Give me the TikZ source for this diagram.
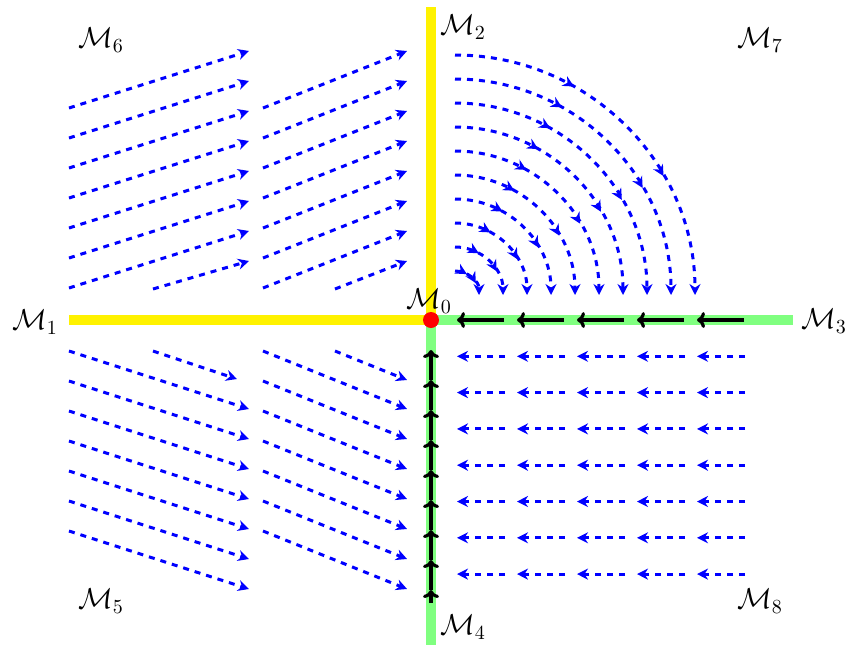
\documentclass[tikz,border=0pt]{standalone}
\usetikzlibrary{arrows.meta,decorations.markings}
\begin{document}
\begin{tikzpicture}[x=0.5pt,y=0.5pt,
  axisY/.style={yellow, line width=5pt},
  axisG/.style={green!50, line width=5pt},
  flow/.style={blue, dashed, line width=1.5pt, -{Stealth[length=5.5pt,width=5.5pt]}},
  bigarrow/.style={black, line width=1.6pt, -{Computer Modern Rightarrow[length=4pt,width=8pt]}},
  lab/.style={font=\Large, inner sep=0pt},
  arcflow/.style={flow, postaction={decorate}, decoration={markings,
     mark=at position 0.33 with {\arrow{Stealth[length=5.5pt,width=5.5pt]}},
     mark=at position 0.67 with {\arrow{Stealth[length=5.5pt,width=5.5pt]}}}}
]
\useasboundingbox (-431,-325) rectangle (419,320);
% axes
\coordinate (O) at (0,0);
\coordinate (L) at (-362,0);
\coordinate (T) at (0,313);
\coordinate (R) at (362,0);
\coordinate (B) at (0,-325);
\draw[axisG] (O) -- (R);
\draw[axisG] (O) -- (B);
\draw[axisY] (L) -- (O);
\draw[axisY] (O) -- (T);
% upper-left and lower-left flows
\foreach \k in {0,...,6} {
  \draw[flow] (-362,{212-30*\k}) -- (-182,{269-30*\k});
  \draw[flow] (-168,{212-30*\k}) -- (-24,{269-30*\k});
  \draw[flow] (-362,{-31-30*\k}) -- (-182,{-89-30*\k});
  \draw[flow] (-168,{-31-30*\k}) -- (-24,{-89-30*\k});
}
\draw[flow] (-278,31) -- (-182,59);
\draw[flow] (-96,31) -- (-24,59);
\draw[flow] (-278,-31) -- (-194,-59);
\draw[flow] (-96,-31) -- (-24,-60);
% upper-right arcs
\foreach \k in {1,...,10} {
  \draw[arcflow] (24,{25+24*\k}) arc[start angle=90, end angle=0, radius={\k*12pt}];
}
% lower-right flows
\foreach \j in {1,...,7} {
  \foreach \c in {0,...,4} {
    \draw[flow] ({74+60*\c},{-36.3*\j}) -- ({26+60*\c},{-36.3*\j});
  }
}
% black arrows on green axes
\foreach \c in {0,...,4} {
  \draw[bigarrow] ({73+60*\c},0) -- ({26+60*\c},0);
}
\foreach \k in {0,...,7} {
  \draw[bigarrow] (0,{-60-30*\k}) -- (0,{-30-30*\k});
}
\draw[bigarrow] (0,-283) -- (0,-270);
% equilibrium
\fill[red] (O) circle[radius=4pt];
% labels
\node[lab] (m0) at (-2,19) {$\mathcal{M}_0$};
\node[lab] (m1) at (-396,-2) {$\mathcal{M}_1$};
\node[lab] (m2) at (32,293) {$\mathcal{M}_2$};
\node[lab] (m3) at (393,-1) {$\mathcal{M}_3$};
\node[lab] (m4) at (32,-307) {$\mathcal{M}_4$};
\node[lab] (m5) at (-330,-281) {$\mathcal{M}_5$};
\node[lab] (m6) at (-330,280) {$\mathcal{M}_6$};
\node[lab] (m7) at (329,280) {$\mathcal{M}_7$};
\node[lab] (m8) at (329,-281) {$\mathcal{M}_8$};
\end{tikzpicture}
\end{document}
